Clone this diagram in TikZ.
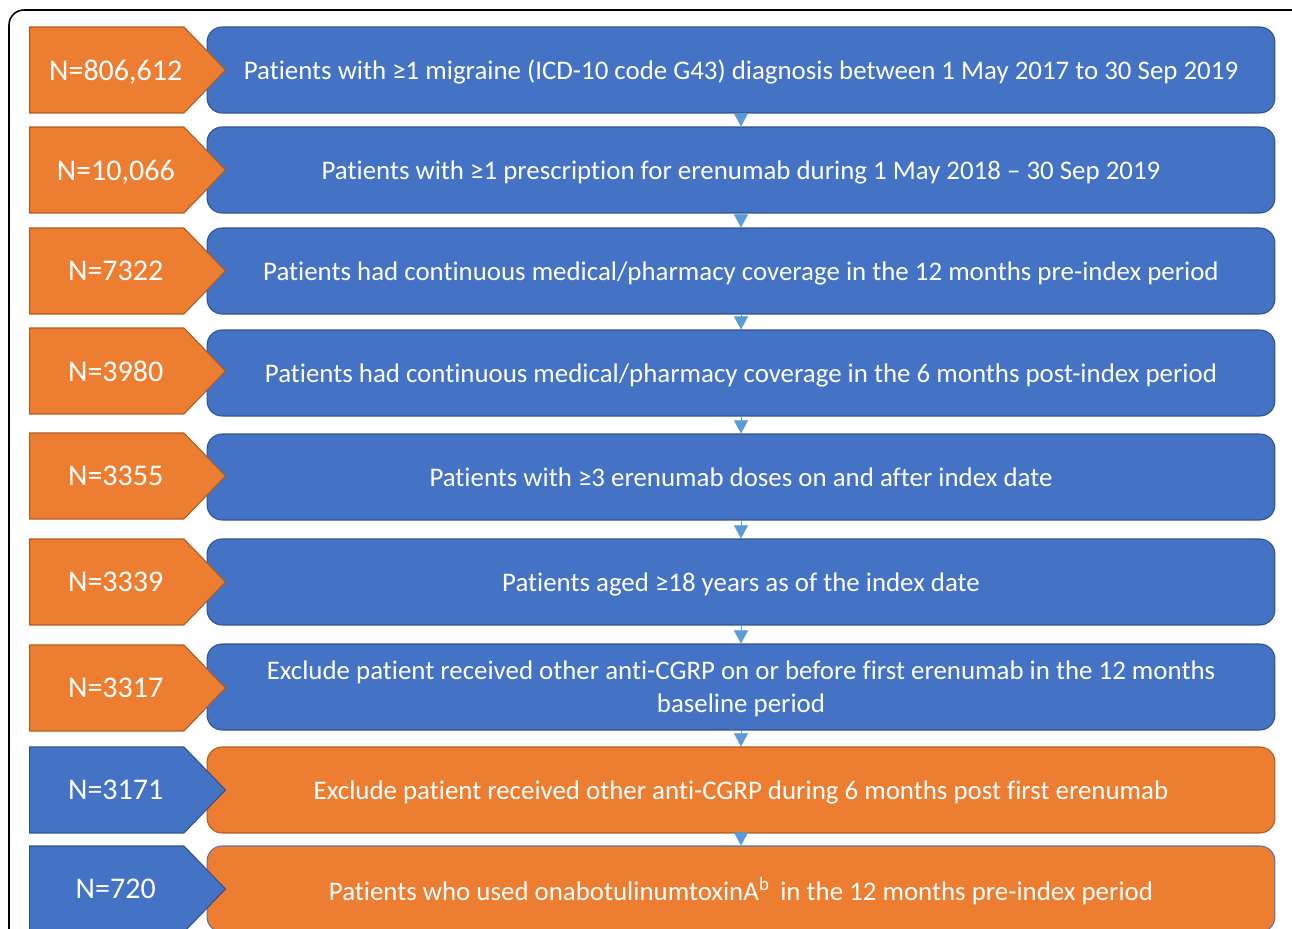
\documentclass[tikz,border=0pt]{standalone}
\usepackage{fontspec}
\setmainfont{Carlito}[Ligatures=NoCommon]
\usepackage{tikz}
\usetikzlibrary{shapes.symbols, arrows.meta}

\definecolor{accblue}{HTML}{4472C4}
\definecolor{accblueline}{HTML}{2F528F}
\definecolor{accorange}{HTML}{ED7D31}
\definecolor{accorangeline}{HTML}{AE5A21}
\definecolor{stepblue}{HTML}{5B9BD5}

\begin{document}
\begin{tikzpicture}[x=0.02cm, y=-0.02cm,
  box/.style={rectangle, rounded corners=0.3cm, minimum width=21.36cm, minimum height=1.72cm,
    inner sep=0pt, text depth=0pt, align=center, text=white, font=\fontsize{15.3}{18.7}\selectfont, line width=0.6pt},
  bluebox/.style={box, fill=accblue, draw=accblueline},
  orangebox/.style={box, fill=accorange, draw=accorangeline},
  tag/.style={signal, signal to=east, signal pointer angle=92, minimum width=3.92cm, minimum height=1.72cm,
    inner sep=0pt, text depth=0pt, text=white, font=\fontsize{17.1}{20}\selectfont, line width=0.6pt,
    execute at begin node={\hspace*{0.36cm}}},
  orangetag/.style={tag, fill=accorange, draw=accorangeline},
  bluetag/.style={tag, fill=accblue, draw=accblueline},
  conn/.style={-{Triangle[length=0.26cm, width=0.28cm]}, draw=stepblue, fill=stepblue, line width=0.2pt}]

\clip (0,0) rectangle (1292,929);

% outer frame
\draw[line width=0.9pt, rounded corners=0.3cm] (9,10) rectangle (1320,960);

% criteria boxes
\node(b1)[bluebox] at (741,70){Patients with ≥1 migraine (ICD-10 code G43) diagnosis between 1 May 2017 to 30 Sep 2019};
\node(b2)[bluebox] at (741,170){Patients with ≥1 prescription for erenumab during 1 May 2018 – 30 Sep 2019};
\node(b3)[bluebox] at (741,271){Patients had continuous medical/pharmacy coverage in the 12 months pre-index period};
\node(b4)[bluebox] at (741,373){Patients had continuous medical/pharmacy coverage in the 6 months post-index period};
\node(b5)[bluebox] at (741,477){Patients with ≥3 erenumab doses on and after index date};
\node(b6)[bluebox] at (741,582){Patients aged ≥18 years as of the index date};
\node(b7)[bluebox] at (741,687){Exclude patient received other anti-CGRP on or before first erenumab in the 12 months\\baseline period};
\node(b8)[orangebox] at (741,790){Exclude patient received other anti-CGRP during 6 months post first erenumab};
\node(b9)[orangebox, draw=accblueline!80!white] at (741,889){Patients who used onabotulinumtoxinA\textsuperscript{b}\, in the 12 months pre-index period};

% counts
\node(n1)[orangetag, anchor=west] at (29,70){N=806,612};
\node(n2)[orangetag, anchor=west] at (29,170){N=10,066};
\node(n3)[orangetag, anchor=west] at (29,271){N=7322};
\node(n4)[orangetag, anchor=west] at (29,371){N=3980};
\node(n5)[orangetag, anchor=west] at (29,476){N=3355};
\node(n6)[orangetag, anchor=west] at (29,582){N=3339};
\node(n7)[orangetag, anchor=west] at (29,688){N=3317};
\node(n8)[bluetag, anchor=west] at (29,790){N=3171};
\node(n9)[bluetag, anchor=west] at (29,889){N=720};

% step markers
\draw[conn] (b1.south) -- (b2.north);
\draw[conn] (b2.south) -- (b3.north);
\draw[conn] (b3.south) -- (b4.north);
\draw[conn] (b4.south) -- (b5.north);
\draw[conn] (b5.south) -- (b6.north);
\draw[conn] (b6.south) -- (b7.north);
\draw[conn] (b7.south) -- (b8.north);
\draw[conn] (b8.south) -- (b9.north);
\end{tikzpicture}
\end{document}
